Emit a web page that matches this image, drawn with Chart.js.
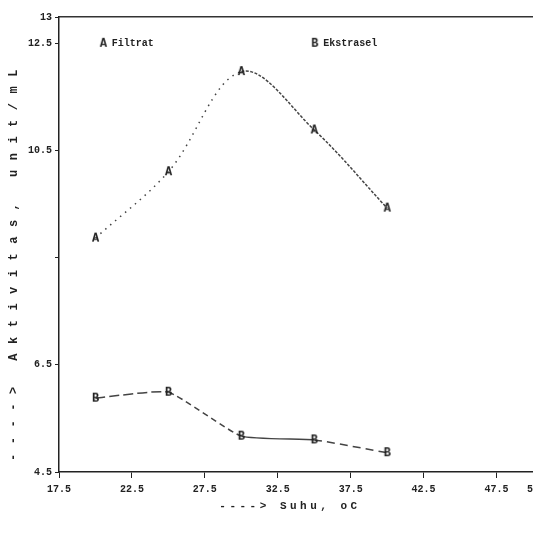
<!DOCTYPE html>
<html>
<head>
<meta charset="utf-8">
<script src="https://cdn.jsdelivr.net/npm/chart.js@4"></script>
<style>
  html, body { margin: 0; padding: 0; background: #fff; overflow: hidden; width: 533px; height: 533px; }
  #wrap { width: 560px; height: 533px; }
</style>
</head>
<body>
<div id="wrap"><canvas id="c" width="560" height="533"></canvas></div>
<script>
(function () {
  'use strict';

  var temps = [20, 25, 30, 35, 40];
  var filtrat = [8.87, 10.11, 11.98, 10.89, 9.43];
  var ekstrasel = [5.88, 5.99, 5.17, 5.10, 4.86];
  var xTicks = [17.5, 22.5, 27.5, 32.5, 37.5, 42.5, 47.5, 50];
  var yTicks = [4.5, 6.5, 8.5, 10.5, 12.5, 13];
  var yTickLabels = ['4.5', '6.5', '', '10.5', '12.5', '13'];
  var seriesNames = ['Filtrat', 'Ekstrasel'];
  var seriesMarks = ['A', 'B'];
  var xTitle = '----> Suhu, oC';
  var yTitle = '----> Aktivitas, unit/mL';

  var ink = '#222';
  var lineInk = '#444';
  var fontFam = '"Liberation Mono", "DejaVu Sans Mono", monospace';

  function glyph(ch) {
    var g = document.createElement('canvas');
    g.width = 11;
    g.height = 13;
    var x = g.getContext('2d');
    x.fillStyle = ink;
    x.font = 'bold 12px ' + fontFam;
    x.textAlign = 'center';
    x.textBaseline = 'middle';
    x.fillText(ch, 5.5, 7);
    return g;
  }

  function pts(arr) {
    return arr.map(function (v, i) { return { x: temps[i], y: v }; });
  }

  var dashA = [[1.5, 5], [1.5, 5], [3, 1.5], [3, 1.5]];
  var dashB = [[10, 4], [6, 4], [], [8, 5]];

  var annot = {
    id: 'annot',
    afterDraw: function (chart) {
      var ctx = chart.ctx;
      var ca = chart.chartArea;
      var xs = chart.scales.x;
      var ys = chart.scales.y;
      ctx.save();
      ctx.fillStyle = ink;

      // legend inside the plot
      var legX = [20.5, 35];
      ctx.font = 'bold 10px ' + fontFam;
      ctx.textBaseline = 'middle';
      for (var i = 0; i < seriesNames.length; i++) {
        var px = xs.getPixelForValue(legX[i]);
        var py = ys.getPixelForValue(12.5);
        ctx.drawImage(glyph(seriesMarks[i]), px - 5, py - 7);
        ctx.textAlign = 'left';
        ctx.fillText(seriesNames[i], px + 9, py);
      }

      // axis titles
      ctx.font = 'bold 11px ' + fontFam;
      ctx.textAlign = 'center';
      ctx.letterSpacing = '3.5px';
      ctx.fillText(xTitle, (ca.left + ca.right) / 2 - 6, 506);

      ctx.translate(14, (ca.top + ca.bottom) / 2 + 16);
      ctx.rotate(-Math.PI / 2);
      ctx.font = 'bold 12px ' + fontFam;
      ctx.letterSpacing = '9.5px';
      ctx.fillText(yTitle, 0, 0);
      ctx.restore();
    }
  };

  new Chart(document.getElementById('c'), {
    type: 'line',
    data: {
      datasets: [
        {
          label: seriesNames[0],
          data: pts(filtrat),
          borderColor: lineInk,
          borderWidth: 1.5,
          tension: 0.35,
          pointStyle: glyph(seriesMarks[0]),
          segment: { borderDash: function (c) { return dashA[c.p0DataIndex]; } },
        },
        {
          label: seriesNames[1],
          data: pts(ekstrasel),
          borderColor: lineInk,
          borderWidth: 1.5,
          tension: 0.15,
          pointStyle: glyph(seriesMarks[1]),
          segment: { borderDash: function (c) { return dashB[c.p0DataIndex]; } },
        },
      ],
    },
    options: {
      responsive: false,
      animation: false,
      devicePixelRatio: 1,
      layout: { padding: { top: 17, right: 27, left: 0, bottom: 0 } },
      plugins: { legend: { display: false }, tooltip: { enabled: false } },
      scales: {
        x: {
          type: 'linear',
          position: 'bottom',
          min: 17.5,
          max: 50,
          afterBuildTicks: function (s) { s.ticks = xTicks.map(function (v) { return { value: v }; }); },
          afterFit: function (s) { s.height = 61; },
          grid: { drawOnChartArea: false, tickLength: 6, color: ink },
          border: { color: ink, width: 1.5 },
          ticks: {
            color: ink,
            padding: 5,
            maxRotation: 0,
            font: { family: fontFam, size: 10, weight: 'bold' },
            callback: function (v) { return v % 1 ? v.toFixed(1) : String(v); },
          },
        },
        x2: {
          type: 'linear',
          position: 'top',
          min: 17.5,
          max: 50,
          grid: { display: true, drawOnChartArea: false, drawTicks: false },
          border: { color: '#333', width: 1.5, dash: [7, 3] },
          ticks: { display: false },
        },
        y: {
          min: 4.5,
          max: 13,
          afterBuildTicks: function (s) { s.ticks = yTicks.map(function (v) { return { value: v }; }); },
          afterFit: function (s) { s.width = 59; },
          grid: { drawOnChartArea: false, tickLength: 4, color: ink },
          border: { color: ink, width: 1.5 },
          ticks: {
            color: ink,
            padding: 3,
            font: { family: fontFam, size: 10, weight: 'bold' },
            callback: function (v) { return yTickLabels[yTicks.indexOf(v)]; },
          },
        },
      },
    },
    plugins: [annot],
  });
})();
</script>
</body>
</html>
